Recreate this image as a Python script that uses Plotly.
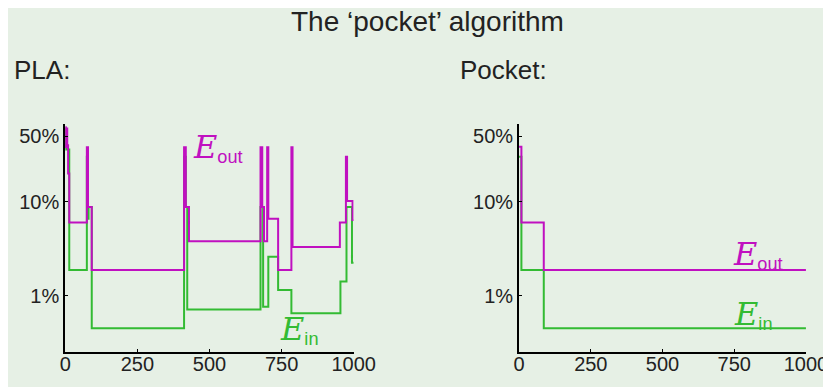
import plotly.graph_objects as go

# PLA (step data: iteration where value starts, error value)
pla_out_x = [0, 2, 4, 7, 10, 14, 75, 79, 92, 412, 418, 429, 677, 683, 689, 700, 704, 738, 784, 788, 952, 973, 977, 996, 1000]
pla_out_y = [0.62, 0.38, 0.60, 0.40, 0.20, 0.060, 0.38, 0.088, 0.0187, 0.38, 0.088, 0.038, 0.38, 0.088, 0.038, 0.38, 0.066, 0.0187, 0.38, 0.033, 0.060, 0.30, 0.102, 0.064, 0.064]
pla_in_x = [0, 3, 14, 75, 78, 81, 92, 412, 418, 423, 677, 686, 704, 738, 784, 954, 975, 994, 1000]
pla_in_y = [0.60, 0.36, 0.0187, 0.30, 0.066, 0.088, 0.0045, 0.30, 0.088, 0.0071, 0.088, 0.0076, 0.026, 0.0115, 0.0065, 0.0141, 0.088, 0.0224, 0.0224]

# Pocket
pocket_out_x = [0, 8, 86, 1000]
pocket_out_y = [0.385, 0.060, 0.0187, 0.0187]
pocket_in_x = [0, 8, 86, 1000]
pocket_in_y = [0.30, 0.0187, 0.0045, 0.0045]

x_ticks = [0, 250, 500, 750, 1000]
y_ticks = [0.5, 0.1, 0.01]
y_tick_labels = ["50%", "10%", "1%"]

MAG = "#c010c0"
GRN = "#33bb33"
BG = "rgb(230,240,229)"

W, H = 831, 387

# measured page mapping: screen_x = 11.7 + 0.968 * fig_x ; screen_y = 8 + fig_y
def fx(px):
    return ((px - 11.7) / 0.968) / W

def fy(py):
    return 1 - (py - 8) / H

fig = go.Figure()
fig.add_trace(go.Scatter(x=pla_in_x, y=pla_in_y, mode="lines", line=dict(color=GRN, width=2, shape="hv"), xaxis="x", yaxis="y"))
fig.add_trace(go.Scatter(x=pla_out_x, y=pla_out_y, mode="lines", line=dict(color=MAG, width=2, shape="hv"), xaxis="x", yaxis="y"))
fig.add_trace(go.Scatter(x=pocket_in_x, y=pocket_in_y, mode="lines", line=dict(color=GRN, width=2, shape="hv"), xaxis="x2", yaxis="y2"))
fig.add_trace(go.Scatter(x=pocket_out_x, y=pocket_out_y, mode="lines", line=dict(color=MAG, width=2, shape="hv"), xaxis="x2", yaxis="y2"))

ydom = [fy(352), fy(124)]
axis_common = dict(showline=True, linecolor="black", linewidth=2, showgrid=False, zeroline=False,
                   ticks="inside", ticklen=3, tickwidth=1, tickcolor="black")
xfont = dict(family="Liberation Sans", size=20, color="#222")
yfont = dict(family="Liberation Sans", size=20, color="#222")

fig.update_layout(
    width=W, height=H, margin=dict(l=0, r=0, t=0, b=0),
    paper_bgcolor=BG, plot_bgcolor=BG, showlegend=False,
    xaxis=dict(domain=[fx(63), fx(352)], range=[0, 1000], tickvals=x_ticks, anchor="y",
               tickfont=xfont, ticklabelstandoff=-7, **axis_common),
    yaxis=dict(domain=ydom, type="log", range=[-2.6, -0.173], tickvals=y_ticks, ticktext=y_tick_labels,
               anchor="x", tickfont=yfont, **axis_common),
    xaxis2=dict(domain=[fx(517.7), fx(805)], range=[0, 1000], tickvals=x_ticks, anchor="y2",
                tickfont=xfont, ticklabelstandoff=-7, **axis_common),
    yaxis2=dict(domain=ydom, type="log", range=[-2.6, -0.173], tickvals=y_ticks, ticktext=y_tick_labels,
                anchor="x2", tickfont=yfont, **axis_common),
)

def txt(text, x, y, size, color="#222", xanchor="left"):
    fig.add_annotation(text=text, x=fx(x), y=fy(y), xref="paper", yref="paper",
                       xanchor=xanchor, yanchor="middle", showarrow=False, borderpad=0,
                       font=dict(family="Liberation Sans", size=size, color=color))

txt("The \u2018pocket\u2019 algorithm", 426, 21, 28, xanchor="center")
txt("PLA:", 11, 70, 26)
txt("Pocket:", 457, 70, 26)

def elabel(sub, x, y, color):
    t = ('<span style="font-family:DejaVu Serif;font-size:32px"><i>E</i></span><sub>'
         + sub + '</sub>')
    txt(t, x, y, 26, color=color)

elabel("out", 190.5, 147, MAG)
elabel("in", 277.5, 329, GRN)
elabel("out", 731, 254, MAG)
elabel("in", 732, 314, GRN)

fig.write_html("out.html", config={"displayModeBar": False})
